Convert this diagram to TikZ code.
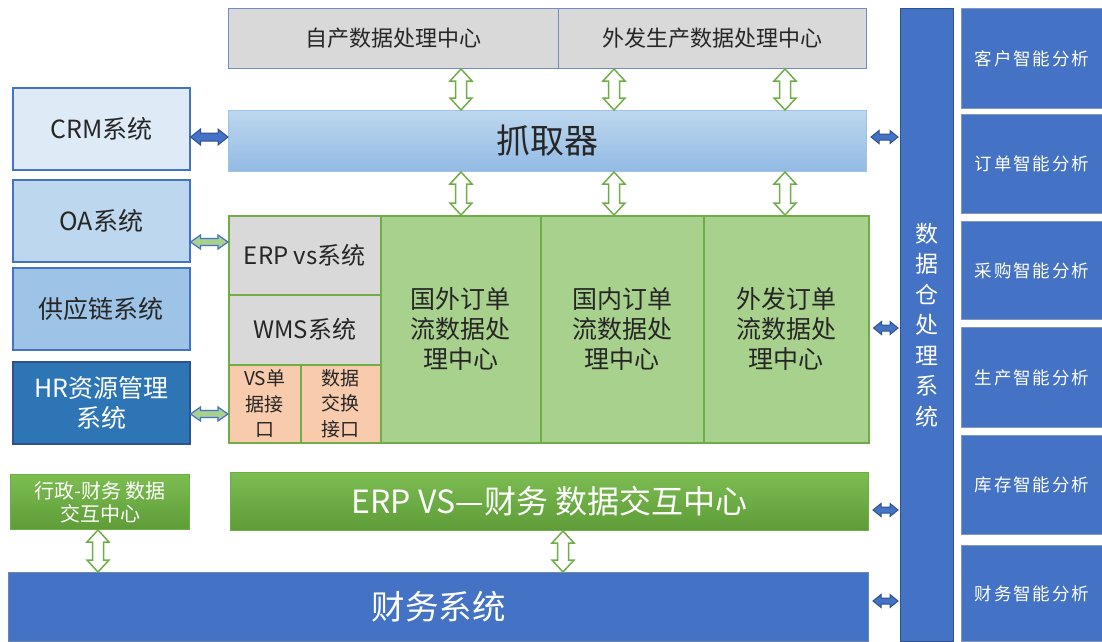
\documentclass[tikz,border=0pt]{standalone}
\usepackage{fontspec}
\setmainfont{Noto Sans CJK SC}
\usetikzlibrary{calc}
\definecolor{txt}{HTML}{262626}
\definecolor{gcell}{HTML}{D9D9D9}
\definecolor{gbord}{HTML}{6F8DBF}
\definecolor{bl1}{HTML}{DEEBF7}
\definecolor{bl2}{HTML}{BDD7EE}
\definecolor{bl3}{HTML}{9DC3E6}
\definecolor{bl4}{HTML}{2E75B6}
\definecolor{blm}{HTML}{4472C4}
\definecolor{bld}{HTML}{2F528F}
\definecolor{grl}{HTML}{A9D18E}
\definecolor{grm}{HTML}{70AD47}
\definecolor{grt}{HTML}{7CBD52}
\definecolor{grb}{HTML}{5E9C37}
\definecolor{org}{HTML}{F8CBAD}
\definecolor{grabt}{HTML}{BDD7EE}
\definecolor{grabb}{HTML}{92BAE4}
\newcommand\fsz[2]{\fontsize{#1}{#2}\selectfont}
\tikzset{
  box/.style={draw, line width=1pt, inner sep=0pt, anchor=north west, align=center, text=txt},
  dbl/.style n args={3}{to path={
    let \p1=(\tikztostart), \p2=(\tikztotarget),
        \n1={veclen(\x2-\x1,\y2-\y1)},
        \n2={(\x2-\x1)/\n1}, \n3={(\y2-\y1)/\n1}
    in (\p1)
    -- ({\x1+(#1)*\n2-(#2)*\n3},{\y1+(#1)*\n3+(#2)*\n2})
    -- ({\x1+(#1)*\n2-(#3)*\n3},{\y1+(#1)*\n3+(#3)*\n2})
    -- ({\x1+(\n1-#1)*\n2-(#3)*\n3},{\y1+(\n1-#1)*\n3+(#3)*\n2})
    -- ({\x1+(\n1-#1)*\n2-(#2)*\n3},{\y1+(\n1-#1)*\n3+(#2)*\n2})
    -- (\p2)
    -- ({\x1+(\n1-#1)*\n2+(#2)*\n3},{\y1+(\n1-#1)*\n3-(#2)*\n2})
    -- ({\x1+(\n1-#1)*\n2+(#3)*\n3},{\y1+(\n1-#1)*\n3-(#3)*\n2})
    -- ({\x1+(#1)*\n2+(#3)*\n3},{\y1+(#1)*\n3-(#3)*\n2})
    -- ({\x1+(#1)*\n2+(#2)*\n3},{\y1+(#1)*\n3-(#2)*\n2})
    -- cycle}},
  vgreen/.style={dbl={12}{11}{5.5}, fill=white, draw=grm, line width=1.5pt},
  hblue/.style={dbl={10}{8}{4}, fill=blm, draw=bld, line width=1pt},
  hgreen/.style={dbl={10}{7}{3.5}, fill=grl, draw=blm, line width=1.2pt},
  sblue/.style={dbl={8}{6.5}{3}, fill=blm, draw=bld, line width=1pt},
  rbox/.style={box, fill=blm, draw=bld!60!white, text=white, minimum width=141pt,
    font={\fsz{17.5}{20}\addfontfeature{LetterSpace=11}}},
}
\begin{document}
\begin{tikzpicture}[x=1pt, y=-1pt]
\useasboundingbox (0,0) rectangle (1102,641);
\fill[white] (0,0) rectangle (1102,641);

% top row
\node[box, fill=gcell, draw=gbord, minimum width=330pt, minimum height=60pt, font=\fsz{22}{26}] (top1) at (228,8) {自产数据处理中心};
\node[box, fill=gcell, draw=gbord, minimum width=308pt, minimum height=60pt, font=\fsz{22}{26}] (top2) at (558,8) {外发生产数据处理中心};

% grabber
\node[box, top color=grabt, bottom color=grabb, draw=bl3, minimum width=638pt, minimum height=61pt, font=\fsz{34}{38}] (grab) at (228,110) {抓取器};

% left column
\node[box, fill=bl1, draw=blm, line width=1.5pt, minimum width=177pt, minimum height=82pt, font=\fsz{25}{30}] (crm) at (12,87) {CRM系统};
\node[box, fill=bl2, draw=blm, line width=1.5pt, minimum width=177pt, minimum height=82pt, font=\fsz{25}{30}] (oa) at (12,179) {OA系统};
\node[box, fill=bl3, draw=blm, line width=1.5pt, minimum width=177pt, minimum height=82pt, font=\fsz{25}{30}] (sc) at (12,267) {供应链系统};
\node[box, fill=bl4, draw=bld, line width=1.5pt, text=white, minimum width=177pt, minimum height=82pt, font=\fsz{25}{30}] (hr) at (12,361) {HR资源管理\\系统};

% middle block
\node[box, fill=gcell, draw=grm, line width=1.5pt, minimum width=152pt, minimum height=79pt, font=\fsz{24}{28}] (erp) at (228,215) {ERP vs系统};
\node[box, fill=gcell, draw=grm, line width=1.5pt, minimum width=152pt, minimum height=70pt, font=\fsz{24}{28}] (wms) at (228,294) {WMS系统};
\node[box, fill=org, draw=grm, line width=1.5pt, minimum width=72pt, minimum height=78pt, font=\fsz{19}{25.5}] (vs) at (228,364) {VS单\\据接\\口};
\node[box, fill=org, draw=grm, line width=1.5pt, minimum width=80pt, minimum height=78pt, font=\fsz{19}{25.5}] (dx) at (300,364) {数据\\交换\\接口};
\node[box, fill=grl, draw=grm, line width=1.5pt, minimum width=160pt, minimum height=227pt, font=\fsz{25}{30}] (g1) at (380,215) {国外订单\\流数据处\\理中心};
\node[box, fill=grl, draw=grm, line width=1.5pt, minimum width=163pt, minimum height=227pt, font=\fsz{25}{30}] (g2) at (540,215) {国内订单\\流数据处\\理中心};
\node[box, fill=grl, draw=grm, line width=1.5pt, minimum width=165pt, minimum height=227pt, font=\fsz{25}{30}] (g3) at (703,215) {外发订单\\流数据处\\理中心};

% green bars
\node[box, top color=grt, bottom color=grb, draw=grm, text=white, minimum width=179pt, minimum height=55pt, font=\fsz{20}{23}] (xz) at (10,474) {行政-财务 数据\\交互中心};
\node[box, top color=grt, bottom color=grb, draw=grm, text=white, minimum width=638pt, minimum height=58pt, font=\fsz{32}{36}] (erpvs) at (230,472) {ERP VS—财务 数据交互中心};

% finance
\node[box, fill=blm, draw=bld!70!white, text=white, minimum width=860pt, minimum height=69pt, font=\fsz{33.5}{38}] (cw) at (8,572) {财务系统};

% data warehouse
\node[box, fill=blm, draw=bld, text=white, minimum width=53pt, minimum height=633pt, font=\fsz{23}{30.5}] (dw) at (900,8) {数\\据\\仓\\处\\理\\系\\统};

% right boxes
\node[rbox, minimum height=100pt] (r1) at (961,8) {客户智能分析};
\node[rbox, minimum height=99pt] (r2) at (961,114) {订单智能分析};
\node[rbox, minimum height=98pt] (r3) at (961,221) {采购智能分析};
\node[rbox, minimum height=100pt] (r4) at (961,327) {生产智能分析};
\node[rbox, minimum height=99pt] (r5) at (961,435) {库存智能分析};
\node[rbox, minimum height=96pt] (r6) at (961,545) {财务智能分析};

% helper coordinates
\coordinate (a1) at (461,0);
\coordinate (a2) at (614,0);
\coordinate (a3) at (785,0);
\coordinate (a4) at (98,0);
\coordinate (a5) at (563,0);
\coordinate (h1) at (0,137);
\coordinate (h2) at (0,242);
\coordinate (h3) at (0,414);
\coordinate (h4) at (0,328);
\coordinate (h5) at (0,510);
\coordinate (h6) at (0,601);

% vertical green arrows
\draw[vgreen] (top1.south -| a1) to (grab.north -| a1);
\draw[vgreen] (top2.south -| a2) to (grab.north -| a2);
\draw[vgreen] (top2.south -| a3) to (grab.north -| a3);
\draw[vgreen] (grab.south -| a1) to (g1.north -| a1);
\draw[vgreen] (grab.south -| a2) to (g2.north -| a2);
\draw[vgreen] (grab.south -| a3) to (g3.north -| a3);
\draw[vgreen] (xz.south -| a4) to (cw.north -| a4);
\draw[vgreen] (erpvs.south -| a5) to (cw.north -| a5);

% horizontal arrows left
\draw[hblue] (crm.east |- h1) to (grab.west |- h1);
\draw[hgreen] (oa.east |- h2) to (erp.west |- h2);
\draw[hgreen] (hr.east |- h3) to (vs.west |- h3);

% horizontal arrows right
\draw[sblue] ([xshift=4pt]grab.east |- h1) to ([xshift=-2pt]dw.west |- h1);
\draw[sblue] ([xshift=4pt]g3.east |- h4) to ([xshift=-2pt]dw.west |- h4);
\draw[sblue] ([xshift=4pt]erpvs.east |- h5) to ([xshift=-2pt]dw.west |- h5);
\draw[sblue] ([xshift=4pt]cw.east |- h6) to ([xshift=-2pt]dw.west |- h6);
\end{tikzpicture}
\end{document}
